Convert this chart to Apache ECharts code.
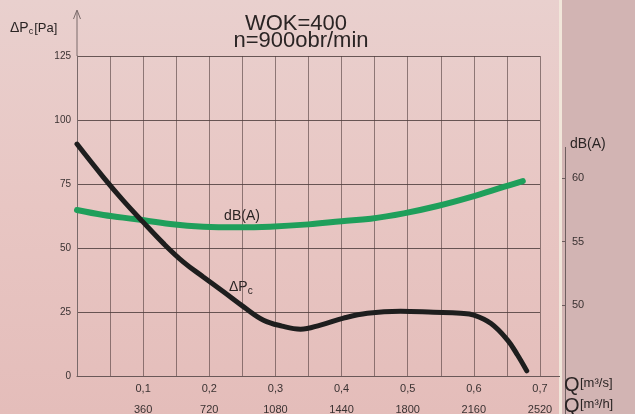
<!DOCTYPE html>
<html><head><meta charset="utf-8">
<script src="https://cdn.jsdelivr.net/npm/echarts@6/dist/echarts.min.js"></script>
<style>html,body{margin:0;padding:0;background:#e6c4c2}#c{width:635px;height:414px}</style>
</head><body><div id="c"></div>
<script>
// ---- data ----
const pressureQ  = [0, 0.04, 0.07, 0.1, 0.131, 0.161, 0.191, 0.222, 0.252, 0.282, 0.31, 0.338, 0.368, 0.403, 0.439, 0.489, 0.539, 0.58, 0.6, 0.626, 0.651, 0.666, 0.68];
const pressurePa = [90.6, 77.6, 68.5, 60.1, 51.7, 44.5, 38.7, 32.8, 27.0, 21.8, 19.5, 18.3, 19.9, 22.6, 24.5, 25.3, 24.9, 24.5, 23.8, 20.5, 14.0, 8.2, 2.0];
const noiseQ  = [0, 0.04, 0.09, 0.141, 0.191, 0.242, 0.292, 0.35, 0.4, 0.444, 0.494, 0.545, 0.595, 0.645, 0.674];
const noiseDb = [57.48, 57.09, 56.75, 56.38, 56.17, 56.12, 56.17, 56.35, 56.6, 56.8, 57.22, 57.8, 58.5, 59.3, 59.76];
const qTickLabels  = ['0,1', '0,2', '0,3', '0,4', '0,5', '0,6', '0,7'];
const qhTickLabels = ['360', '720', '1080', '1440', '1800', '2160', '2520'];
const dbTicks = [50, 55, 60];
const titleLines = ['WOK=400', 'n=900obr/min'];

const FONT = '"Liberation Sans", Arial, Helvetica, sans-serif';
const chart = echarts.init(document.getElementById('c'), null, {renderer: 'canvas'});

function qLabel(v) {
  const idx = Math.round(v / 0.1);
  if (Math.abs(v - idx * 0.1) > 1e-6 || idx < 1) return '';
  return qTickLabels[idx - 1] + '\n' + qhTickLabels[idx - 1];
}

chart.setOption({
  animation: false,
  backgroundColor: {
    type: 'linear', x: 0, y: 0, x2: 0, y2: 1,
    colorStops: [{offset: 0, color: '#e9d0ce'}, {offset: 0.5, color: '#e8c6c3'}, {offset: 1, color: '#e4bdba'}]
  },
  textStyle: {fontFamily: FONT},
  grid: {left: 77, right: 95, top: 56, bottom: 38, containLabel: false, outerBoundsMode: 'none'},
  xAxis: {
    type: 'value', min: 0, max: 0.7, interval: 0.05,
    axisLine: {show: true, lineStyle: {color: '#6a5858', width: 1}},
    axisTick: {show: false},
    splitLine: {show: true, lineStyle: {color: 'rgba(80,60,60,0.6)', width: 1}},
    axisLabel: {formatter: qLabel, fontSize: 11, color: '#3a3232', lineHeight: 21, margin: 2, fontFamily: FONT}
  },
  yAxis: [{
    type: 'value', min: 0, max: 125, interval: 25,
    axisLine: {show: true, lineStyle: {color: '#7a6a6a', width: 1}},
    axisTick: {show: false},
    splitLine: {show: true, lineStyle: {color: 'rgba(60,45,45,0.75)', width: 1}},
    axisLabel: {fontSize: 10, color: '#3a3232', margin: 6, fontFamily: FONT}
  }, {
    type: 'value', min: 44.41, max: 69.61, position: 'right', offset: 25,
    axisLine: {show: false},
    axisTick: {show: true, inside: true, length: 3, customValues: dbTicks, lineStyle: {color: '#6e5e5e'}},
    splitLine: {show: false},
    axisLabel: {customValues: dbTicks, fontSize: 11, color: '#3a3232', margin: 7, fontFamily: FONT}
  }],
  series: [{
    type: 'line', yAxisIndex: 1, showSymbol: false, smooth: 0.4,
    data: noiseQ.map((q, i) => [q, noiseDb[i]]),
    lineStyle: {color: '#1f9f5b', width: 6, cap: 'round'}, z: 3
  }, {
    type: 'line', yAxisIndex: 0, showSymbol: false, smooth: 0.4,
    data: pressureQ.map((q, i) => [q, pressurePa[i]]),
    lineStyle: {color: '#1e1e1e', width: 5, cap: 'round'}, z: 4
  }],
  graphic: [
    {type: 'rect', z: -5, shape: {x: 560, y: 0, width: 75, height: 414}, style: {fill: '#d2b4b3'}},
    {type: 'rect', z: -4, shape: {x: 559, y: 0, width: 3, height: 414}, style: {fill: '#f1e6da'}},
    {type: 'line', shape: {x1: 565.5, y1: 147, x2: 565.5, y2: 414}, style: {stroke: '#6e5e5e', lineWidth: 1}},
    {type: 'line', shape: {x1: 77, y1: 56, x2: 77, y2: 11}, style: {stroke: '#7a6a6a', lineWidth: 1}},
    {type: 'polyline', shape: {points: [[73.5, 19], [77, 10], [80.5, 19]]}, style: {stroke: '#7a6a6a', lineWidth: 1, fill: null}},
    {type: 'line', shape: {x1: 540, y1: 376.5, x2: 560, y2: 376.5}, style: {stroke: '#6a5858', lineWidth: 1}},
    {type: 'text', x: 296, y: 24, style: {text: titleLines[0], font: '22px ' + FONT, fill: '#2a2424', align: 'center', verticalAlign: 'middle'}},
    {type: 'text', x: 301, y: 41, style: {text: titleLines[1], font: '22px ' + FONT, fill: '#2a2424', align: 'center', verticalAlign: 'middle'}},
    {type: 'text', x: 10, y: 28, style: {
      text: '{d|Δ}{p|P}{s|c}{u|[Pa]}', align: 'left', verticalAlign: 'middle',
      rich: {
        d: {fontSize: 14, fontFamily: FONT, fill: '#2a2424'},
        p: {fontSize: 14, fontFamily: FONT, fill: '#2a2424'},
        s: {fontSize: 9, fontFamily: FONT, fill: '#2a2424', padding: [7, 1, 0, 0]},
        u: {fontSize: 13, fontFamily: FONT, fill: '#2a2424'}
      }}},
    {type: 'text', x: 242, y: 216, style: {text: 'dB(A)', font: '14px ' + FONT, fill: '#2a2424', align: 'center', verticalAlign: 'middle'}},
    {type: 'text', x: 229, y: 287, style: {
      text: '{d|Δ}{p|P}{s|c}', align: 'left', verticalAlign: 'middle',
      rich: {
        d: {fontSize: 14, fontFamily: FONT, fill: '#2a2424'},
        p: {fontSize: 14, fontFamily: FONT, fill: '#2a2424'},
        s: {fontSize: 10, fontFamily: FONT, fill: '#2a2424', padding: [8, 0, 0, 0]}
      }}},
    {type: 'text', x: 570, y: 144, style: {text: 'dB(A)', font: '14px ' + FONT, fill: '#2a2424', align: 'left', verticalAlign: 'middle'}},
    {type: 'text', x: 564, y: 385, style: {text: 'Q', font: '20px ' + FONT, fill: '#2a2424', align: 'left', verticalAlign: 'middle'}},
    {type: 'text', x: 580, y: 383, style: {text: '[m³/s]', font: '13px ' + FONT, fill: '#2a2424', align: 'left', verticalAlign: 'middle'}},
    {type: 'text', x: 564, y: 406, style: {text: 'Q', font: '20px ' + FONT, fill: '#2a2424', align: 'left', verticalAlign: 'middle'}},
    {type: 'text', x: 580, y: 404, style: {text: '[m³/h]', font: '13px ' + FONT, fill: '#2a2424', align: 'left', verticalAlign: 'middle'}}
  ]
});
</script>
</body></html>
